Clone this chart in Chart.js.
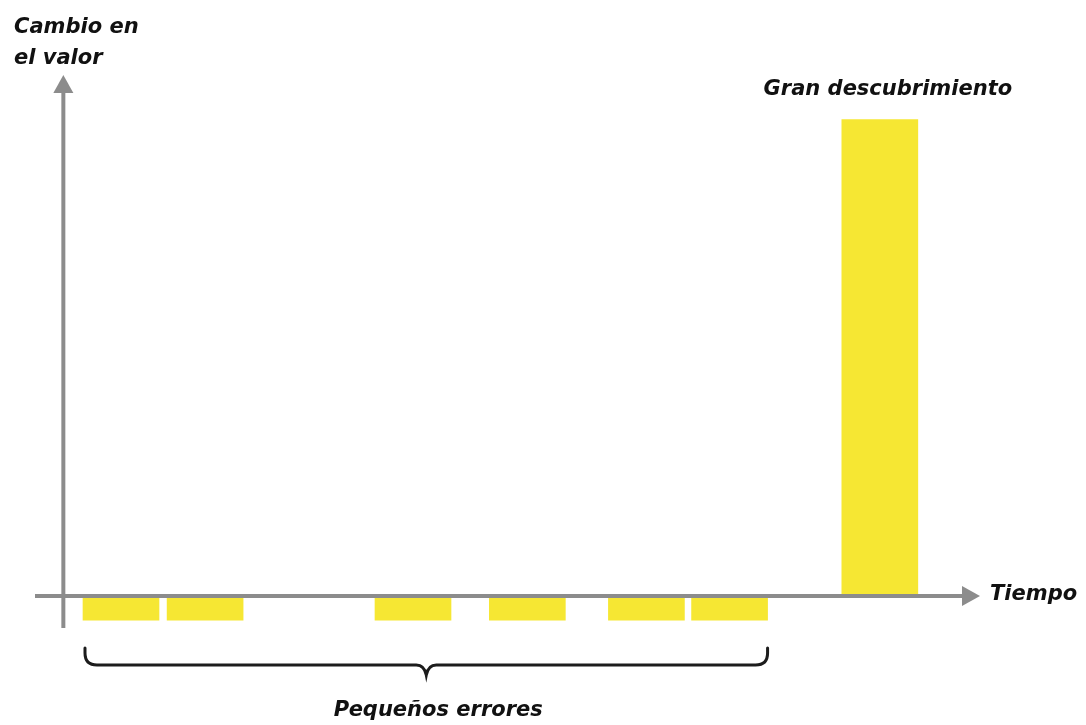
<!DOCTYPE html>
<html>
<head>
<meta charset="utf-8">
<script src="https://cdn.jsdelivr.net/npm/chart.js@4.4.1/dist/chart.umd.min.js"></script>
<style>
  html, body { margin: 0; padding: 0; background: #fff; }
  #wrap { width: 1086px; height: 725px; }
</style>
</head>
<body>
<div id="wrap"><canvas id="chart" width="1086" height="725"></canvas></div>
<script>
// Time position of each bar (0-100 along the x axis) and its change in value
const categories = ['Error 1', 'Error 2', 'Error 3', 'Error 4', 'Error 5', 'Error 6', 'Descubrimiento'];
const timePoints = [9.1, 18.0, 40.0, 52.1, 64.7, 73.5, 89.4];
const changeValues = [-1, -1, -1, -1, -1, -1, 19.85];

const yAxisLabel = ['Cambio en', 'el valor'];
const xAxisLabel = 'Tiempo';
const bigLabel = 'Gran descubrimiento';
const braceLabel = 'Pequeños errores';

const YELLOW = '#f6e733';
const AXIS = '#8c8c8c';
const FONT = 'oblique bold 21px "DejaVu Sans", sans-serif';

// Draws the arrowed axes, the brace under the small bars and the labels
const decorations = {
    id: 'decorations',
    afterDatasetsDraw(chart) {
        const ctx = chart.ctx;
        const x = chart.scales.x;
        const y = chart.scales.y;
        const zeroY = y.getPixelForValue(0);
        const axisX = x.getPixelForValue(3);
        const top = y.getPixelForValue(y.max);
        const bottom = y.getPixelForValue(y.min);
        const left = x.getPixelForValue(x.min);
        const right = x.getPixelForValue(x.max);

        ctx.save();
        ctx.strokeStyle = AXIS;
        ctx.fillStyle = AXIS;
        ctx.lineWidth = 4;

        // y axis
        ctx.beginPath();
        ctx.moveTo(axisX, bottom);
        ctx.lineTo(axisX, top + 16);
        ctx.stroke();
        ctx.beginPath();
        ctx.moveTo(axisX, top);
        ctx.lineTo(axisX - 10, top + 18);
        ctx.lineTo(axisX + 10, top + 18);
        ctx.closePath();
        ctx.fill();

        // x axis
        ctx.beginPath();
        ctx.moveTo(left, zeroY);
        ctx.lineTo(right - 16, zeroY);
        ctx.stroke();
        ctx.beginPath();
        ctx.moveTo(right, zeroY);
        ctx.lineTo(right - 18, zeroY - 10);
        ctx.lineTo(right - 18, zeroY + 10);
        ctx.closePath();
        ctx.fill();

        // brace under the small errors
        const bars = chart.getDatasetMeta(0).data;
        const first = bars[0];
        const last = bars[5];
        const bx0 = first.x - first.width / 2 + 2;
        const bx1 = last.x + last.width / 2;
        const mid = (bx0 + bx1) / 2;
        const by = zeroY + 69;
        const r = 12;
        ctx.strokeStyle = '#1c1c1c';
        ctx.lineWidth = 3;
        ctx.lineCap = 'round';
        ctx.beginPath();
        ctx.moveTo(bx0, by - 17);
        ctx.lineTo(bx0, by - r);
        ctx.quadraticCurveTo(bx0, by, bx0 + r, by);
        ctx.lineTo(mid - 10, by);
        ctx.quadraticCurveTo(mid - 2, by, mid, by + 10);
        ctx.quadraticCurveTo(mid + 2, by, mid + 10, by);
        ctx.lineTo(bx1 - r, by);
        ctx.quadraticCurveTo(bx1, by, bx1, by - r);
        ctx.lineTo(bx1, by - 17);
        ctx.stroke();

        // labels
        ctx.fillStyle = '#111';
        ctx.font = FONT;
        ctx.textBaseline = 'alphabetic';
        ctx.textAlign = 'left';
        ctx.fillText(yAxisLabel[0], 14, 33);
        ctx.fillText(yAxisLabel[1], 14, 64);

        ctx.textBaseline = 'middle';
        ctx.fillText(xAxisLabel, right + 10, zeroY - 2);

        ctx.textAlign = 'center';
        ctx.textBaseline = 'alphabetic';
        const big = bars[6];
        ctx.fillText(bigLabel, big.x + 8, big.y - 25);
        ctx.fillText(braceLabel, mid + 12, by + 51);
        ctx.restore();
    }
};

new Chart(document.getElementById('chart').getContext('2d'), {
    type: 'bar',
    data: {
        labels: categories,
        datasets: [{
            data: timePoints.map((t, i) => ({ x: t, y: changeValues[i] })),
            backgroundColor: YELLOW,
            borderWidth: 0,
            barThickness: 76
        }]
    },
    options: {
        responsive: false,
        animation: false,
        devicePixelRatio: 1,
        layout: { padding: { left: 35, right: 106, top: 75, bottom: 97 } },
        plugins: { legend: { display: false }, tooltip: { enabled: false } },
        scales: {
            x: { type: 'linear', min: 0, max: 100, display: false, offset: false },
            y: { min: -1.33, max: 21.71, display: false }
        }
    },
    plugins: [decorations]
});
</script>
</body>
</html>
